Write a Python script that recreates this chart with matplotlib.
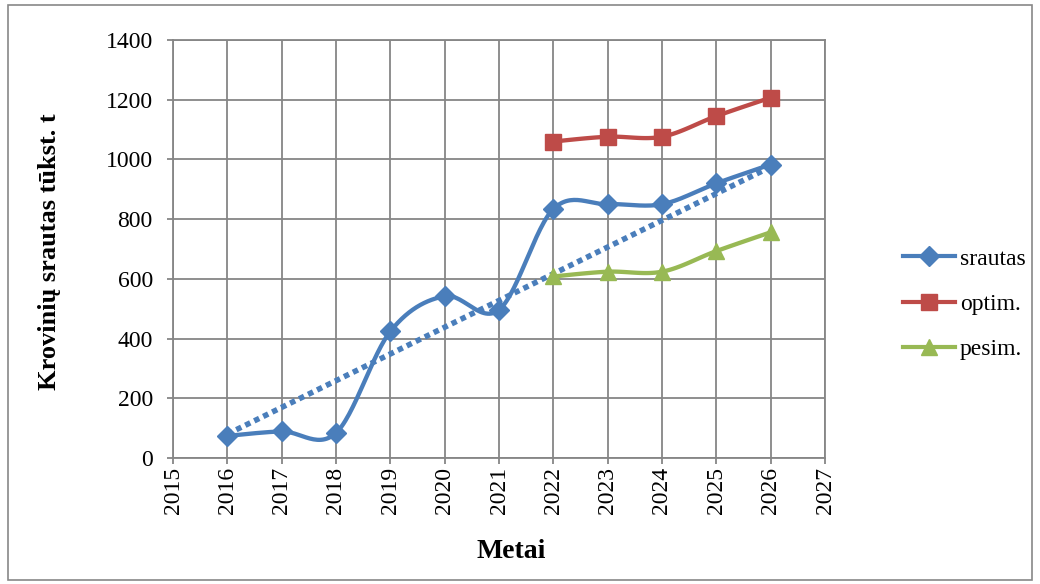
import numpy as np
import matplotlib
matplotlib.use("Agg")
import matplotlib.pyplot as plt
from matplotlib.lines import Line2D
from matplotlib.patches import Rectangle

years = [2016, 2017, 2018, 2019, 2020, 2021, 2022, 2023, 2024, 2025, 2026]
srautas = [74, 89, 84, 424, 542, 496, 834, 850, 850, 920, 983]
trend_years = [2016, 2026]
trend = [80, 975]
proj_years = [2022, 2023, 2024, 2025, 2026]
optim = [1060, 1076, 1076, 1145, 1207]
pesim = [608, 624, 624, 693, 756]
x_ticks = list(range(2015, 2028))
y_ticks = list(range(0, 1401, 200))

plt.rcParams['font.family'] = ['Liberation Serif', 'DejaVu Serif']

def smooth(xs, ys, n=30):
    xs = np.asarray(xs, float); ys = np.asarray(ys, float)
    P = np.column_stack([xs, ys])
    P = np.vstack([P[0], P, P[-1]])
    out = []
    for i in range(1, len(P) - 2):
        p0, p1, p2, p3 = P[i-1], P[i], P[i+1], P[i+2]
        c1 = p1 + (p2 - p0) / 6
        c2 = p2 - (p3 - p1) / 6
        t = np.linspace(0, 1, n)[:, None]
        seg = (1-t)**3*p1 + 3*(1-t)**2*t*c1 + 3*(1-t)*t**2*c2 + t**3*p2
        out.append(seg if i == 1 else seg[1:])
    out = np.vstack(out)
    return out[:, 0], out[:, 1]

fig = plt.figure(figsize=(10.4, 5.84), dpi=100)
ax = fig.add_axes([173/1040, 1-458/584, (825-173)/1040, (458-40)/584])

blue = '#4a7ebb'
red = '#be4b48'
green = '#98b954'
grid = '#868686'

ax.plot(trend_years, trend, color=blue, lw=4, linestyle=(0, (1.0, 0.8)),
        dash_capstyle='butt', zorder=3)

sx, sy = smooth(years, srautas)
ax.plot(sx, sy, color=blue, lw=3.1, zorder=4, solid_capstyle='round')
ax.plot(years, srautas, linestyle='none', marker='D', color=blue, ms=10.5, zorder=5)

ox, oy = smooth(proj_years, optim)
ax.plot(ox, oy, color=red, lw=3.1, zorder=4, solid_capstyle='round')
ax.plot(proj_years, optim, linestyle='none', marker='s', color=red, ms=12, zorder=5)

px, py = smooth(proj_years, pesim)
ax.plot(px, py, color=green, lw=3.1, zorder=4, solid_capstyle='round')
ax.plot(proj_years, pesim, linestyle='none', marker='^', color=green, ms=12, zorder=5)

ax.set_xlim(2015, 2027)
ax.set_ylim(0, 1400)
ax.set_xticks(x_ticks)
ax.set_yticks(y_ticks)
ax.set_xticklabels([str(v) for v in x_ticks], rotation=90, fontsize=17)
ax.set_yticklabels([str(v) for v in y_ticks], fontsize=17)
ax.grid(True, color=grid, lw=1.3)
ax.set_axisbelow(True)
for s in ['top', 'right', 'left', 'bottom']:
    ax.spines[s].set_color(grid); ax.spines[s].set_linewidth(1.3)
ax.tick_params(axis='both', direction='out', length=4.5, width=1.3, color=grid)
ax.tick_params(axis='y', pad=10)
ax.tick_params(axis='x', pad=2)

ax.set_xlabel('Metai', fontsize=20, fontweight='bold')
ax.xaxis.set_label_coords(511/1040, 1-551/584, transform=fig.transFigure)
ax.xaxis.label.set_va('center')
ax.set_ylabel('Krovinių srautas tūkst. t', fontsize=19, fontweight='bold', va='center')
ax.yaxis.set_label_coords(50/1040, 1-252/584, transform=fig.transFigure)

handles = [Line2D([], [], color=blue, lw=3, marker='D', ms=10),
           Line2D([], [], color=red, lw=3, marker='s', ms=11),
           Line2D([], [], color=green, lw=3, marker='^', ms=11)]
leg = fig.legend(handles, ['srautas', 'optim.', 'pesim.'], loc='center left',
                 bbox_to_anchor=(903/1040, 1-304/584), frameon=False, fontsize=17,
                 handlelength=2.2, handletextpad=0.2, labelspacing=1.0, borderpad=0,
                 borderaxespad=0)

fig.patches.append(Rectangle((8/1040, 4/584), 1024/1040, 575/584, transform=fig.transFigure,
                             fill=False, edgecolor='#888888', lw=1.2))

fig.savefig('out.png', dpi=100)
